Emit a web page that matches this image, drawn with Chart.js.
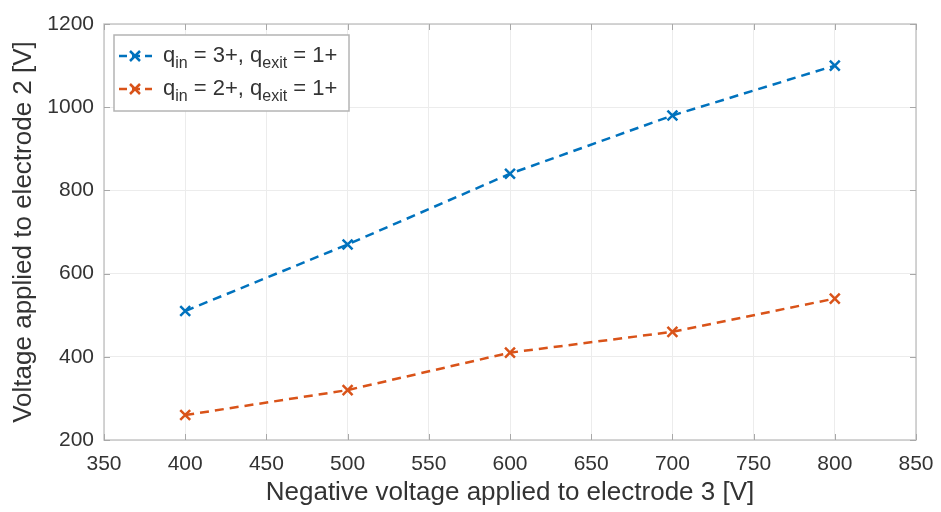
<!DOCTYPE html>
<html>
<head>
<meta charset="utf-8">
<script src="https://cdn.jsdelivr.net/npm/chart.js@4.4.1/dist/chart.umd.min.js"></script>
<style>
  html, body { margin: 0; padding: 0; background: #fff; }
</style>
</head>
<body>
<canvas id="chart" width="941" height="512"></canvas>
<script>
// data
const xValues = [400, 500, 600, 700, 800];
const q3Values = [510, 670, 840, 980, 1100];
const q2Values = [260, 320, 410, 460, 540];
const xTicks = [350, 400, 450, 500, 550, 600, 650, 700, 750, 800, 850];
const yTicks = [200, 400, 600, 800, 1000, 1200];
const seriesLabels = ['q_in = 3+, q_exit = 1+', 'q_in = 2+, q_exit = 1+'];
const seriesColors = ['#0072BD', '#D95319'];

const FONT = "'Liberation Sans', Arial, sans-serif";
const TEXT = '#333333';

// matlab style: box, inner tick marks, legend with subscripts
const matlabBox = {
  id: 'matlabBox',
  afterDraw(chart) {
    const { ctx, chartArea: a, scales } = chart;
    ctx.save();
    ctx.strokeStyle = '#c6c6c6';
    ctx.lineWidth = 1.5;
    ctx.strokeRect(a.left, a.top, a.right - a.left, a.bottom - a.top);
    ctx.strokeStyle = '#a8a8a8';
    ctx.lineWidth = 1;
    xTicks.forEach(v => {
      const x = Math.round(scales.x.getPixelForValue(v)) + 0.5;
      ctx.beginPath();
      ctx.moveTo(x, a.bottom); ctx.lineTo(x, a.bottom - 6);
      ctx.moveTo(x, a.top); ctx.lineTo(x, a.top + 6);
      ctx.stroke();
    });
    yTicks.forEach(v => {
      const y = Math.round(scales.y.getPixelForValue(v)) + 0.5;
      ctx.beginPath();
      ctx.moveTo(a.left, y); ctx.lineTo(a.left + 6, y);
      ctx.moveTo(a.right, y); ctx.lineTo(a.right - 6, y);
      ctx.stroke();
    });

    // legend
    const lx = a.left + 10, ly = a.top + 11, lw = 235, lh = 76;
    ctx.fillStyle = '#ffffff';
    ctx.fillRect(lx, ly, lw, lh);
    ctx.strokeStyle = '#b4b4b4';
    ctx.lineWidth = 1.5;
    ctx.strokeRect(lx, ly, lw, lh);
    chart.data.datasets.forEach((ds, i) => {
      const cy = ly + 21 + i * 33;
      ctx.strokeStyle = ds.borderColor;
      ctx.lineWidth = 2.5;
      ctx.setLineDash([8, 5]);
      ctx.beginPath();
      ctx.moveTo(lx + 5, cy); ctx.lineTo(lx + 38, cy);
      ctx.stroke();
      ctx.setLineDash([]);
      const mx = lx + 21, r = 5;
      ctx.beginPath();
      ctx.moveTo(mx - r, cy - r); ctx.lineTo(mx + r, cy + r);
      ctx.moveTo(mx - r, cy + r); ctx.lineTo(mx + r, cy - r);
      ctx.stroke();

      // text with subscripts
      let tx = lx + 49;
      ctx.fillStyle = TEXT;
      ctx.textBaseline = 'middle';
      ctx.textAlign = 'left';
      const parts = ds.label.split(/_(\w+)/);
      parts.forEach((p, k) => {
        if (k % 2 === 1) {
          ctx.font = '16px ' + FONT;
          ctx.fillText(p, tx, cy + 8);
        } else {
          ctx.font = '22px ' + FONT;
          ctx.fillText(p, tx, cy);
        }
        tx += ctx.measureText(p).width;
      });
    });
    ctx.restore();
  }
};

const makeSet = (label, data, color) => ({
  label,
  data: xValues.map((x, i) => ({ x, y: data[i] })),
  borderColor: color,
  backgroundColor: color,
  borderWidth: 2.5,
  borderDash: [9, 6],
  pointStyle: 'crossRot',
  pointRadius: 7,
  pointBorderWidth: 2.5,
  tension: 0,
  fill: false
});

new Chart(document.getElementById('chart'), {
  type: 'line',
  data: {
    datasets: [
      makeSet(seriesLabels[0], q3Values, seriesColors[0]),
      makeSet(seriesLabels[1], q2Values, seriesColors[1])
    ]
  },
  options: {
    responsive: false,
    animation: false,
    devicePixelRatio: 1,
    layout: { padding: { top: 24, right: 25, left: 0, bottom: 0 } },
    plugins: { legend: { display: false }, tooltip: { enabled: false } },
    scales: {
      x: {
        type: 'linear',
        min: 350, max: 850,
        afterBuildTicks: s => { s.ticks = xTicks.map(v => ({ value: v })); },
        afterFit: s => { s.height = 72; s.paddingRight = 0; s.paddingLeft = 0; },
        grid: { color: '#ececec', lineWidth: 1, drawTicks: false },
        border: { display: false },
        ticks: { color: TEXT, font: { family: FONT, size: 21 }, padding: 12, callback: v => String(v) },
        title: {
          display: true,
          text: 'Negative voltage applied to electrode 3 [V]',
          color: TEXT,
          font: { family: FONT, size: 26 },
          padding: { top: 0, bottom: 4 }
        }
      },
      y: {
        type: 'linear',
        min: 200, max: 1200,
        afterBuildTicks: s => { s.ticks = yTicks.map(v => ({ value: v })); },
        afterFit: s => { s.width = 104; },
        grid: { color: '#ececec', lineWidth: 1, drawTicks: false },
        border: { display: false },
        ticks: { color: TEXT, font: { family: FONT, size: 21 }, padding: 10, callback: v => String(v) },
        title: {
          display: true,
          text: 'Voltage applied to electrode 2 [V]',
          color: TEXT,
          font: { family: FONT, size: 26 },
          padding: { top: 8, bottom: 0 }
        }
      }
    }
  },
  plugins: [matlabBox]
});
</script>
</body>
</html>
